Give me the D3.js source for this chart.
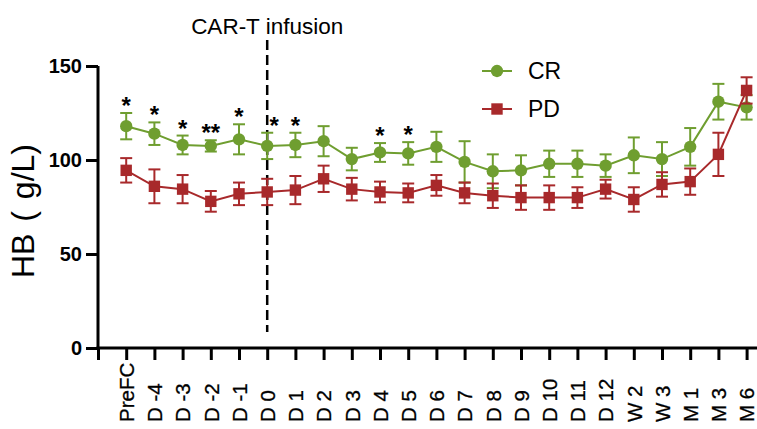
<!DOCTYPE html>
<html>
<head>
<meta charset="utf-8">
<script src="https://cdn.jsdelivr.net/npm/d3@7"></script>
<style>
  body { margin: 0; background: #fff; }
  svg { display: block; font-family: "Liberation Sans", Arial, sans-serif; }
</style>
</head>
<body>
<svg id="chart" width="757" height="429"></svg>
<script>
// time points (x categories)
const categories = ['PreFC', 'D -4', 'D -3', 'D -2', 'D -1', 'D 0', 'D 1', 'D 2', 'D 3', 'D 4', 'D 5', 'D 6',
  'D 7', 'D 8', 'D 9', 'D 10', 'D 11', 'D 12', 'W 2', 'W 3', 'M 1', 'M 3', 'M 6'];

// CR group: mean and error
const crMean = [118, 114, 108, 107.5, 111, 107.5, 108, 110, 100.5, 104, 103.5, 107, 99, 94, 94.5, 98, 98, 97, 102.5, 100.5, 107, 131, 128];
const crErr = [7, 6, 5, 3, 8, 7, 6.5, 8, 6, 5, 6, 8, 11, 9, 8, 7, 7, 6, 9.5, 9, 10, 9.5, 6.5];

// PD group: mean and error
const pdMean = [94.5, 86, 84.5, 78, 82, 83, 84, 90, 84.5, 83, 82.5, 86.5, 82.5, 81, 80, 80, 80, 84.5, 79, 87, 88.5, 103, 137];
const pdErr = [6.5, 9, 7.5, 5.5, 6, 7, 7.5, 7, 6, 5.5, 5, 5.5, 5.5, 6.5, 6.5, 6.5, 5.5, 5, 6.5, 6.5, 7, 11.5, 7];

// significance marks above CR
const sigLabels = ['*', '*', '*', '**', '*', '*', '*', '', '', '*', '*', '', '', '', '', '', '', '', '', '', '', '', ''];

const yTicks = [0, 50, 100, 150];

const green = '#6f9e30';
const red = '#a8292b';

const svg = d3.select('#chart');

const x = d3.scaleLinear().domain([0, 23]).range([98, 746.6]);
const y = d3.scaleLinear().domain([0, 150]).range([348, 66]);

// y axis
const yAxis = svg.append('g')
  .attr('transform', 'translate(98,0)')
  .call(d3.axisLeft(y).tickValues(yTicks).tickSize(12).tickSizeOuter(0).tickPadding(4));
yAxis.select('.domain').attr('stroke-width', 3).attr('d', `M0,${y(150)}V${y(0) + 1.5}`);
yAxis.selectAll('.tick line').attr('stroke-width', 3);
yAxis.selectAll('.tick text')
  .style('font-size', '20px')
  .style('font-weight', 'bold')
  .style('font-family', '"Liberation Sans", Arial, sans-serif')
  .attr('fill', '#000');

// x axis
const xAxis = svg.append('g')
  .attr('transform', `translate(0,${y(0)})`)
  .call(d3.axisBottom(x).tickValues(d3.range(0, 24)).tickSize(12).tickSizeOuter(0)
    .tickFormat(i => i === 0 ? '' : categories[i - 1]));
xAxis.select('.domain').attr('stroke-width', 3).attr('d', 'M96.5,0H757');
xAxis.selectAll('.tick line').attr('stroke-width', 3);
xAxis.selectAll('.tick text')
  .style('font-size', '20.5px')
  .style('font-family', '"Liberation Sans", Arial, sans-serif')
  .attr('fill', '#000')
  .attr('stroke', '#000')
  .attr('stroke-width', 0.3)
  .attr('text-anchor', 'start')
  .attr('transform', 'rotate(-90)')
  .attr('x', -(422 - y(0)))
  .attr('y', 0)
  .attr('dy', '0.36em');

// y axis title
svg.append('text')
  .attr('transform', 'translate(34,211) rotate(-90)')
  .attr('text-anchor', 'middle')
  .style('font-size', '32px')
  .style('word-spacing', '3px')
  .text('HB ( g/L)');

// CAR-T infusion marker
const x0 = x(categories.indexOf('D 0') + 1);
svg.append('line')
  .attr('x1', x0).attr('x2', x0)
  .attr('y1', 40).attr('y2', 332)
  .attr('stroke', '#000')
  .attr('stroke-width', 2.5)
  .attr('stroke-dasharray', '10,5');
svg.append('text')
  .attr('x', x0)
  .attr('y', 34)
  .attr('text-anchor', 'middle')
  .style('font-size', '22.5px')
  .text('CAR-T infusion');

function drawSeries(mean, err, color, shape) {
  const g = svg.append('g');
  const line = d3.line().x((d, i) => x(i + 1)).y(d => y(d));
  g.append('path')
    .datum(mean)
    .attr('d', line)
    .attr('fill', 'none')
    .attr('stroke', color)
    .attr('stroke-width', 2);

  const bars = g.selectAll('g.err').data(mean).enter().append('g').attr('class', 'err');
  bars.append('line')
    .attr('x1', (d, i) => x(i + 1)).attr('x2', (d, i) => x(i + 1))
    .attr('y1', (d, i) => y(d + err[i])).attr('y2', (d, i) => y(d - err[i]))
    .attr('stroke', color).attr('stroke-width', 2);
  [1, -1].forEach(s => {
    bars.append('line')
      .attr('x1', (d, i) => x(i + 1) - 6).attr('x2', (d, i) => x(i + 1) + 6)
      .attr('y1', (d, i) => y(d + s * err[i])).attr('y2', (d, i) => y(d + s * err[i]))
      .attr('stroke', color).attr('stroke-width', 2);
  });

  const sym = d3.symbol().type(shape === 'circle' ? d3.symbolCircle : d3.symbolSquare)
    .size(shape === 'circle' ? 120 : 130);
  g.selectAll('path.pt').data(mean).enter().append('path')
    .attr('class', 'pt')
    .attr('d', sym)
    .attr('transform', (d, i) => `translate(${x(i + 1)},${y(d)})`)
    .attr('fill', color);
}

drawSeries(crMean, crErr, green, 'circle');
drawSeries(pdMean, pdErr, red, 'square');

// significance stars
svg.selectAll('text.sig').data(sigLabels).enter().append('text')
  .attr('class', 'sig')
  .attr('x', (d, i) => x(i + 1) + (categories[i] === 'D 0' ? 7 : 0))
  .attr('y', (d, i) => y(crMean[i] + crErr[i]) + 1)
  .attr('text-anchor', 'middle')
  .style('font-size', '24px')
  .style('font-weight', 'bold')
  .text(d => d);

// legend
const legend = [
  { name: 'CR', color: green, shape: d3.symbolCircle, size: 120 },
  { name: 'PD', color: red, shape: d3.symbolSquare, size: 130 }
];
const lg = svg.selectAll('g.legend').data(legend).enter().append('g')
  .attr('class', 'legend')
  .attr('transform', (d, i) => `translate(482,${71 + i * 38})`);
lg.append('line')
  .attr('x1', 0).attr('x2', 30)
  .attr('stroke', d => d.color).attr('stroke-width', 2);
lg.append('path')
  .attr('d', d => d3.symbol().type(d.shape).size(d.size)())
  .attr('transform', 'translate(15,0)')
  .attr('fill', d => d.color);
lg.append('text')
  .attr('x', 46)
  .attr('dy', '0.36em')
  .style('font-size', '23px')
  .text(d => d.name);
</script>
</body>
</html>
